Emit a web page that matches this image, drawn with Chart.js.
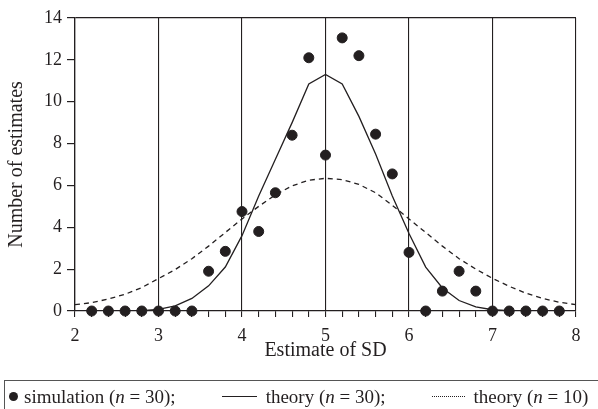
<!DOCTYPE html>
<html>
<head>
<meta charset="utf-8">
<script src="https://cdn.jsdelivr.net/npm/chart.js@4"></script>
<style>
  body { margin: 0; background: #fff; }
  #wrap { position: relative; width: 598px; height: 409px; overflow: hidden; }
  #legend { position: absolute; left: 4px; top: 380px; width: 620px; height: 60px;
            border: 1.5px solid #555; font-family: 'Liberation Serif', serif; font-size: 19px; color: #231f20; }
  #row { display: flex; align-items: center; height: 31px; white-space: nowrap; }
  #row i { font-style: italic; }
  .dot { width: 9px; height: 9px; border-radius: 50%; background: #231f20; margin: 0 6px 0 4px; }
  .solid { width: 35px; border-top: 1.3px solid #231f20; margin: 0 9px 0 46px; }
  .dotted { width: 33px; border-top: 1.5px dotted #231f20; margin: 0 9px 0 46px; }
</style>
</head>
<body>
<div id="wrap">
  <canvas id="sdChart" width="598" height="409"></canvas>
  <div id="legend">
    <div id="row">
      <div class="dot"></div>
      <span>simulation (<i>n</i> = 30);</span>
      <div class="solid"></div>
      <span>theory (<i>n</i> = 30);</span>
      <div class="dotted"></div>
      <span>theory (<i>n</i> = 10)</span>
    </div>
  </div>
</div>
<script>
// simulation counts (n = 30), one bin every 0.2
const simX = [2.2, 2.4, 2.6, 2.8, 3.0, 3.2, 3.4, 3.6, 3.8, 4.0, 4.2, 4.4, 4.6, 4.8, 5.0,
              5.2, 5.4, 5.6, 5.8, 6.0, 6.2, 6.4, 6.6, 6.8, 7.0, 7.2, 7.4, 7.6, 7.8];
const simCounts = [0, 0, 0, 0, 0, 0, 0, 1.9, 2.85, 4.75, 3.8, 5.65, 8.4, 12.1, 7.45,
                   13.05, 12.2, 8.45, 6.55, 2.8, 0, 0.95, 1.9, 0.95, 0, 0, 0, 0, 0];

// theory curves sampled every 0.2 from 2 to 8
const theoryX = [2.0, 2.2, 2.4, 2.6, 2.8, 3.0, 3.2, 3.4, 3.6, 3.8, 4.0, 4.2, 4.4, 4.6, 4.8, 5.0,
                 5.2, 5.4, 5.6, 5.8, 6.0, 6.2, 6.4, 6.6, 6.8, 7.0, 7.2, 7.4, 7.6, 7.8, 8.0];
const theory30 = [0, 0, 0, 0, 0.02, 0.08, 0.25, 0.6, 1.2, 2.1, 3.6, 5.5, 7.25, 9.0, 10.85, 11.3,
                  10.85, 9.3, 7.5, 5.5, 3.7, 2.1, 1.1, 0.5, 0.2, 0.06, 0.02, 0, 0, 0, 0];
const theory10 = [0.3, 0.4, 0.57, 0.8, 1.12, 1.55, 1.98, 2.5, 3.1, 3.75, 4.4, 5.0, 5.55, 5.98, 6.25, 6.34,
                  6.28, 6.05, 5.65, 5.05, 4.4, 3.75, 3.1, 2.5, 2.0, 1.56, 1.18, 0.85, 0.6, 0.42, 0.3];

const yTicks = [0, 2, 4, 6, 8, 10, 12, 14];

const ink = '#231f20';
const tickFont = { family: "'Liberation Serif', serif", size: 18 };
const titleFont = { family: "'Liberation Serif', serif", size: 20 };
const isInt = v => Math.abs(v - Math.round(v)) < 1e-6;

const toPts = (xs, ys) => xs.map((x, i) => ({ x: x, y: ys[i] }));

const ctx = document.getElementById('sdChart').getContext('2d');
new Chart(ctx, {
    type: 'scatter',
    data: {
        datasets: [
            {
                label: 'simulation (n = 30)',
                data: toPts(simX, simCounts),
                backgroundColor: ink,
                borderColor: ink,
                pointRadius: 5,
                pointHoverRadius: 5,
                clip: false
            },
            {
                label: 'theory (n = 30)',
                data: toPts(theoryX, theory30),
                showLine: true,
                borderColor: ink,
                borderWidth: 1.3,
                pointRadius: 0,
                tension: 0
            },
            {
                label: 'theory (n = 10)',
                data: toPts(theoryX, theory10),
                showLine: true,
                borderColor: ink,
                borderWidth: 1.3,
                borderDash: [5, 4],
                pointRadius: 0,
                tension: 0
            }
        ]
    },
    options: {
        responsive: false,
        animation: false,
        layout: { padding: { left: 0, right: 22, top: 18, bottom: 32 } },
        plugins: { legend: { display: false }, tooltip: { enabled: false } },
        scales: {
            x: {
                type: 'linear',
                min: 2,
                max: 8,
                afterFit: s => { s.height = 66; },
                afterBuildTicks: s => {
                    s.ticks = theoryX.map(v => ({ value: v }));
                },
                ticks: {
                    color: ink,
                    font: tickFont,
                    padding: 8,
                    maxRotation: 0,
                    autoSkip: false,
                    callback: v => isInt(v) ? String(Math.round(v)) : ''
                },
                grid: {
                    color: c => (c.tick && isInt(c.tick.value)) ? ink : 'rgba(0,0,0,0)',
                    tickColor: ink,
                    tickLength: 6,
                    lineWidth: 1.1
                },
                border: { color: ink, width: 1.3 },
                title: {
                    display: true,
                    text: 'Estimate of SD',
                    color: ink,
                    font: titleFont,
                    padding: { top: 0, bottom: 14 }
                }
            },
            y: {
                min: 0,
                max: 14,
                afterFit: s => { s.width = 75; },
                afterBuildTicks: s => {
                    s.ticks = yTicks.map(v => ({ value: v }));
                },
                ticks: {
                    color: ink,
                    font: tickFont,
                    padding: 5
                },
                grid: {
                    color: c => (c.tick && c.tick.value === 14) ? ink : 'rgba(0,0,0,0)',
                    tickColor: ink,
                    tickLength: 8,
                    lineWidth: 1.2
                },
                border: { color: ink, width: 1.3 },
                title: {
                    display: true,
                    text: 'Number of estimates',
                    color: ink,
                    font: titleFont,
                    padding: { top: 5, bottom: 0 }
                }
            }
        }
    }
});
</script>
</body>
</html>
